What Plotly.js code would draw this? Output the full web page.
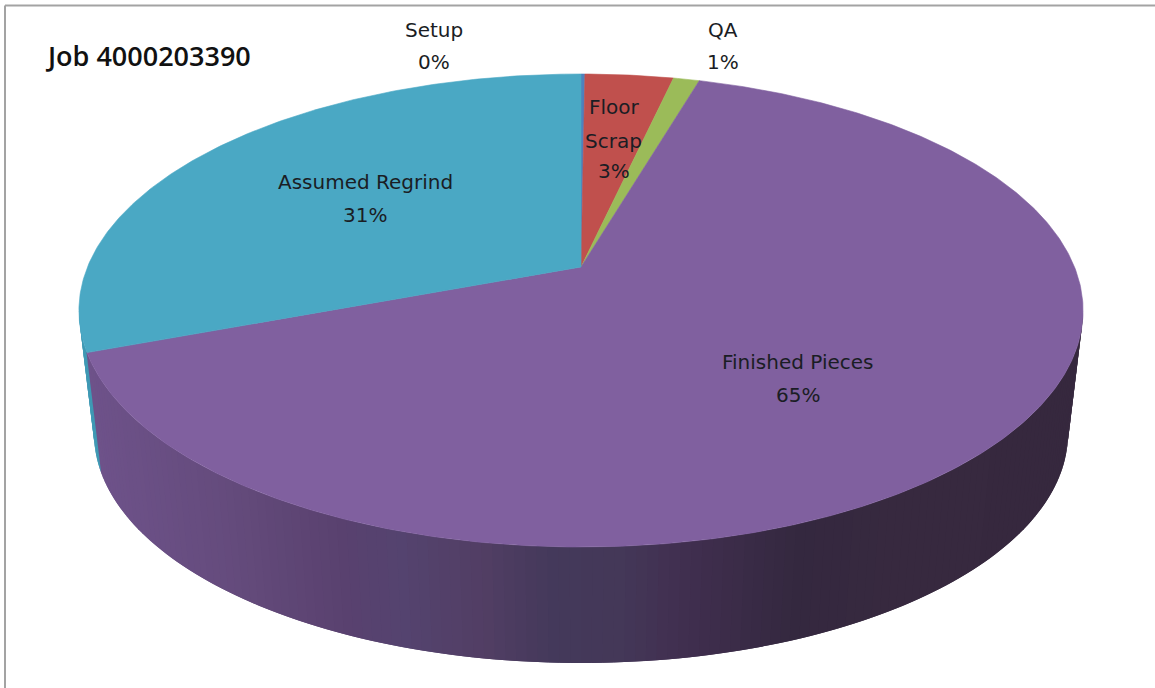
<!DOCTYPE html>
<html>
<head>
<meta charset="utf-8">
<script src="https://cdn.plot.ly/plotly-3.0.1.min.js"></script>
<style>html,body{margin:0;padding:0;background:#fff}#chart{width:1155px;height:688px}</style>
</head>
<body>
<div id="chart"></div>
<script>
// Production breakdown for one job, percentages of total material.
var categories = ['Setup', 'Floor Scrap', 'QA', 'Finished Pieces', 'Assumed Regrind'];
var shares = [0.15, 3.4, 1.0, 64.75, 30.7];
var sliceColors = ['#4f81bd', '#c0504d', '#9bbb59', '#80609f', '#4aa8c4'];
var chartTitle = 'Job 4000203390';

// Perspective disc: clockwise angle from the back of the pie to page coordinates.
var disc = {cx: 581, apexTop: 267, apexBottom: 391.4, a: 493.5, b: 228.5, k: 0.184, shrink: 0.97};
function project(theta, bottom) {
  var u = Math.sin(theta), v = Math.cos(theta), w = 1 + disc.k * v;
  var s = bottom ? disc.shrink : 1;
  return [disc.cx + s * disc.a * u / w,
          (bottom ? disc.apexBottom : disc.apexTop) - s * disc.b * v / w];
}

// Shading of the outer wall, running from the left edge to the right edge.
var wallStops = [
  [85, [110, 82, 138]], [230, [100, 75, 124]], [340, [89, 65, 111]], [400, [84, 67, 111]],
  [480, [82, 62, 100]], [550, [68, 57, 91]], [620, [68, 56, 88]], [680, [65, 47, 80]],
  [800, [52, 40, 63]], [900, [55, 41, 63]], [1085, [54, 40, 62]]
];
function wallShade(x) {
  for (var i = 1; i < wallStops.length; i++) {
    if (x <= wallStops[i][0]) {
      var p = wallStops[i - 1], q = wallStops[i], t = (x - p[0]) / (q[0] - p[0]);
      return 'rgb(' + p[1].map(function (c, j) { return Math.round(c + (q[1][j] - c) * Math.max(t, 0)); }).join(',') + ')';
    }
  }
  return 'rgb(54,40,62)';
}

function polygonTrace(points, color, edge) {
  return {
    type: 'scatter', mode: 'lines', fill: 'toself', fillcolor: color,
    x: points.map(function (p) { return p[0]; }),
    y: points.map(function (p) { return p[1]; }),
    line: {color: color, width: edge}, hoverinfo: 'skip', showlegend: false
  };
}

var total = shares.reduce(function (s, v) { return s + v; }, 0);
var edges = [0];
shares.forEach(function (v) { edges.push(edges[edges.length - 1] + v / total * 2 * Math.PI); });
var regrindStart = edges[4];

var traces = [];

// Outer wall, drawn as overlapping strips so no seams show between them.
var wallFrom = Math.acos(-disc.k), wallTo = 2 * Math.PI - wallFrom, strips = 150;
var stripStep = (wallTo - wallFrom) / strips;
for (var i = 0; i < strips; i++) {
  var t0 = wallFrom + stripStep * i;
  var t1 = Math.min(t0 + stripStep * 2, wallTo);
  var quad = [project(t0, false), project(t1, false), project(t1, true), project(t0, true)];
  var mid = t0 + stripStep / 2;
  var color = mid > regrindStart ? '#3f99b4' : wallShade((project(t0, false)[0] + project(t0 + stripStep, false)[0]) / 2);
  traces.push(polygonTrace(quad, color, 0));
}

// Top face, one polygon per slice.
shares.forEach(function (v, n) {
  var pts = [[disc.cx, disc.apexTop]];
  var steps = Math.max(2, Math.ceil((edges[n + 1] - edges[n]) / 0.01));
  for (var j = 0; j <= steps; j++) {
    pts.push(project(edges[n] + (edges[n + 1] - edges[n]) * j / steps, false));
  }
  pts.push([disc.cx, disc.apexTop]);
  traces.push(polygonTrace(pts, sliceColors[n], 0.6));
});

// Category and percentage labels, two or three lines each.
var labelFont = {family: '"DejaVu Sans", sans-serif', size: 20, color: '#1a1d24'};
function pct(n) { return Math.round(shares[n]) + '%'; }
var labelLines = [
  [434, 30, categories[0]], [434, 62, pct(0)],
  [614, 107, 'Floor'], [613, 141, 'Scrap'], [614, 171, pct(1)],
  [723, 30, categories[2]], [723, 62, pct(2)],
  [798, 362, categories[3]], [798, 395, pct(3)],
  [365, 182, categories[4]], [365, 215, pct(4)]
];
var annotations = labelLines.map(function (l) {
  return {x: l[0], y: l[1], text: l[2], showarrow: false, xref: 'x', yref: 'y',
          xanchor: 'center', yanchor: 'middle', font: labelFont};
});
annotations.push({x: 43, y: 55, text: chartTitle, showarrow: false, xanchor: 'left', yanchor: 'middle',
                  font: {family: '"Open Sans", sans-serif', size: 27, color: '#111', weight: 600}});

var frame = {color: '#a3a3a3', width: 2};
var layout = {
  width: 1155, height: 688,
  margin: {l: 0, r: 0, t: 0, b: 0},
  paper_bgcolor: '#fff', plot_bgcolor: '#fff',
  xaxis: {range: [0, 1155], visible: false, fixedrange: true},
  yaxis: {range: [688, 0], visible: false, fixedrange: true},
  showlegend: false,
  annotations: annotations,
  shapes: [
    {type: 'line', x0: 5, x1: 1155, y0: 5.5, y1: 5.5, line: frame},
    {type: 'line', x0: 5, x1: 5, y0: 5.5, y1: 688, line: frame}
  ]
};
Plotly.newPlot('chart', traces, layout, {displayModeBar: false, staticPlot: true});
</script>
</body>
</html>
